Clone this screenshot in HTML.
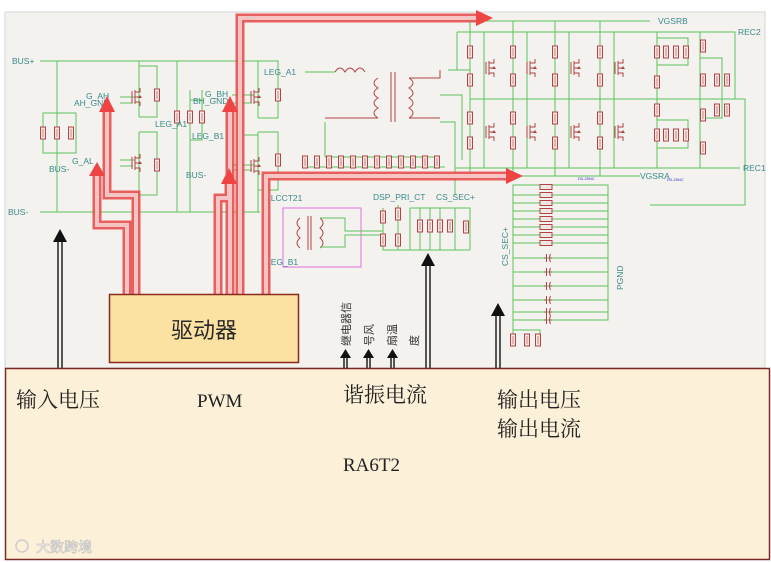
<!DOCTYPE html>
<html><head><meta charset="utf-8"><style>
html,body{margin:0;padding:0;background:#fff;}
svg{display:block;}
.g{stroke:#5cc35c;stroke-width:1;fill:none;}
.lb{font-family:"Liberation Sans",sans-serif;font-size:8.5px;fill:#3a8a8a;}
.cn{font-family:"Liberation Serif","Noto Serif CJK SC",serif;fill:#222;}
</style></head><body>
<svg width="771" height="562" viewBox="0 0 771 562" xmlns="http://www.w3.org/2000/svg">
<defs>
<g id="r"><rect x="-2.5" y="-6" width="5" height="12" fill="#f4e6e2" stroke="#b04444" stroke-width="1"/><line x1="0" y1="-4" x2="0" y2="4" stroke="#b04444" stroke-width="0.6"/></g>
<g id="rh"><rect x="-6" y="-2.5" width="12" height="5" fill="#f4e6e2" stroke="#b04444" stroke-width="1"/></g>
<g id="c"><line x1="-4" y1="0" x2="-1.5" y2="0" stroke="#b04444"/><line x1="-1.5" y1="-4" x2="-1.5" y2="4" stroke="#b04444"/><path d="M2.5,-4 Q0.5,0 2.5,4" stroke="#b04444" fill="none"/><line x1="1.2" y1="0" x2="4" y2="0" stroke="#b04444"/></g>
<g id="m"><line x1="-4" y1="-6" x2="-4" y2="6" stroke="#b04444"/><line x1="-1" y1="-7" x2="-1" y2="7" stroke="#b04444"/><path d="M-1,-5 H4 V-9 M-1,5 H4 V9 M-1,0 H4" stroke="#b04444" fill="none"/><path d="M4,-2 l2,3 h-4z" fill="#b04444"/></g>
</defs>
<rect x="0" y="0" width="771" height="562" fill="#fff"/>
<rect x="5" y="12" width="760" height="356" fill="#f3f2ee" stroke="#d4d4d4"/>

<g class="g">
<path d="M40,61 H260 M40,212 H260 M57,61 V212 M43,113 H76 V153 H43 Z M57,113 V153"/>
<path d="M139,61 V117 M139,132 V195 M139,66 H157 V117 H139 M139,132 H157 V195 H139 M120,97 H135 M120,103 H133 M120,160 H135 M120,166 H133"/>
<path d="M177,61 V212 M190,90 V212 M202,90 V140 H190 M190,100 H202"/>
<path d="M258,61 V118 M258,132 V212 M258,61 H278 V118 H258 M258,132 H278 V190 H258 M232,95 H254 M232,103 H252 M232,165 H254 M232,170 H252 M244,135 H258"/>
<path d="M305,72 H335 M448,70 H470 V21 M325,122 V157 M325,157 H440 M305,167 H445 M330,157 V167 M440,95 H462 V160 M440,122 H455 V195"/>
</g>
<g>
<use href="#r" x="43" y="133"/><use href="#r" x="57" y="133"/><use href="#r" x="71" y="133"/>
<use href="#r" x="157" y="95"/><use href="#r" x="157" y="165"/>
<use href="#r" x="177" y="117"/><use href="#r" x="190" y="117"/><use href="#r" x="202" y="117"/>
<use href="#r" x="278" y="95"/><use href="#r" x="278" y="160"/>
<use href="#m" x="136" y="97"/><use href="#m" x="136" y="163"/><use href="#m" x="255" y="97"/><use href="#m" x="255" y="166"/>
<use href="#r" x="305" y="162"/><use href="#r" x="317" y="162"/><use href="#r" x="329" y="162"/><use href="#r" x="341" y="162"/><use href="#r" x="353" y="162"/><use href="#r" x="365" y="162"/><use href="#r" x="377" y="162"/><use href="#r" x="389" y="162"/><use href="#r" x="401" y="162"/><use href="#r" x="413" y="162"/><use href="#r" x="425" y="162"/><use href="#r" x="437" y="162"/>
</g>
<g stroke="#b04444" fill="none">
<path d="M335,72 q5,-8 10,0 q5,-8 10,0 q5,-8 10,0"/>
<path d="M378,78 q-8,5 0,10 q-8,5 0,10 q-8,5 0,10 q-8,5 0,10"/>
<path d="M409,78 q8,5 0,10 q8,5 0,10 q8,5 0,10 q8,5 0,10"/>
<line x1="391" y1="72" x2="391" y2="122"/><line x1="395" y1="72" x2="395" y2="122"/>
<path d="M378,118 H325 M409,78 H440 V70 M409,118 H440"/>
</g>
<text class="lb" x="264" y="75">LEG_A1</text>
<text class="lb" x="86" y="99">G_AH</text>
<text class="lb" x="74" y="106">AH_GND</text>
<text class="lb" x="155" y="127">LEG_A1</text>
<text class="lb" x="72" y="164">G_AL</text>
<text class="lb" x="49" y="172">BUS-</text>
<text class="lb" x="12" y="64">BUS+</text>
<text class="lb" x="8" y="215">BUS-</text>
<text class="lb" x="205" y="97">G_BH</text>
<text class="lb" x="193" y="104">BH_GND</text>
<text class="lb" x="192" y="139">LEG_B1</text>
<text class="lb" x="186" y="178">BUS-</text>
<text class="lb" x="266" y="201">LLCCT21</text>
<text class="lb" x="266" y="265">LEG_B1</text>
<text class="lb" x="373" y="200">DSP_PRI_CT</text>
<text class="lb" x="436" y="200">CS_SEC+</text>

<rect x="283" y="208" width="78" height="59" fill="none" stroke="#e070e0"/>
<g stroke="#b04444" fill="none"><path d="M300,218 q-6,5 0,10 q-6,5 0,10 q-6,5 0,10"/><path d="M320,218 q6,5 0,10 q6,5 0,10 q6,5 0,10"/><line x1="308" y1="216" x2="308" y2="250"/><line x1="311" y1="216" x2="311" y2="250"/></g>
<g class="g"><path d="M320,218 H345 V231 H383 M320,247 H345 V235 H383 M383,208 V250 H470 M398,205 V250 M410,208 V250 M410,208 H470 V250 M420,208 V250 M430,208 V250 M440,208 V250 M455,208 V250"/></g>
<g><use href="#r" x="383" y="217"/><use href="#r" x="398" y="214"/><use href="#r" x="383" y="240"/><use href="#r" x="398" y="240"/><use href="#r" x="420" y="226"/><use href="#r" x="430" y="226"/><use href="#r" x="440" y="226"/><use href="#r" x="450" y="226"/><use href="#r" x="466" y="227"/></g>

<g class="g">
<path d="M470,21 H650 M457,32 H735 V99 M457,32 V70 M470,99 H745 V205 H650 M455,168 H740 M462,176 H640"/>
<path d="M470,21 V176 M484,32 V168 M513,21 V176 M527,32 V168 M555,21 V176 M569,32 V168 M600,21 V176 M614,32 V168 M657,32 V168 M700,32 V168"/>
<path d="M657,38 H688 V65 H657 M657,120 H688 V148 H657 M700,58 H722 V118 H700"/>
<path d="M513,185 H608 V320 H513 Z M513,195 H608 M513,203 H608 M513,211 H608 M513,219 H608 M513,227 H608 M513,235 H608 M513,243 H608 M513,258 H608 M513,272 H608 M513,286 H608 M513,300 H608 M513,312 H608 M513,320 V345 M513,330 H540 V345"/>
</g>
<g>
<use href="#r" x="470" y="52"/><use href="#r" x="470" y="80"/><use href="#r" x="470" y="118"/><use href="#r" x="470" y="143"/>
<use href="#r" x="513" y="52"/><use href="#r" x="513" y="80"/><use href="#r" x="513" y="118"/><use href="#r" x="513" y="143"/>
<use href="#r" x="555" y="52"/><use href="#r" x="555" y="80"/><use href="#r" x="555" y="118"/><use href="#r" x="555" y="143"/>
<use href="#r" x="600" y="52"/><use href="#r" x="600" y="80"/><use href="#r" x="600" y="118"/><use href="#r" x="600" y="143"/>
<use href="#m" x="490" y="68"/><use href="#m" x="531" y="68"/><use href="#m" x="575" y="68"/><use href="#m" x="619" y="68"/>
<use href="#m" x="490" y="132"/><use href="#m" x="531" y="132"/><use href="#m" x="575" y="132"/><use href="#m" x="619" y="132"/>
<use href="#r" x="657" y="52"/><use href="#r" x="666" y="52"/><use href="#r" x="676" y="52"/><use href="#r" x="686" y="52"/>
<use href="#r" x="657" y="82"/><use href="#r" x="657" y="110"/>
<use href="#r" x="657" y="135"/><use href="#r" x="666" y="135"/><use href="#r" x="676" y="135"/><use href="#r" x="686" y="135"/>
<use href="#r" x="703" y="46"/><use href="#r" x="703" y="80"/><use href="#r" x="703" y="115"/><use href="#r" x="703" y="148"/>
<use href="#r" x="717" y="80"/><use href="#r" x="727" y="80"/><use href="#r" x="717" y="110"/><use href="#r" x="727" y="110"/>
<use href="#rh" x="546" y="187"/><use href="#rh" x="546" y="195"/><use href="#rh" x="546" y="203"/><use href="#rh" x="546" y="211"/><use href="#rh" x="546" y="219"/><use href="#rh" x="546" y="227"/><use href="#rh" x="546" y="235"/><use href="#rh" x="546" y="243"/>
<use href="#c" x="548" y="258"/><use href="#c" x="548" y="272"/><use href="#c" x="548" y="286"/><use href="#c" x="548" y="300"/><use href="#c" x="548" y="312"/><use href="#c" x="548" y="320"/>
<use href="#r" x="513" y="340"/><use href="#r" x="527" y="340"/><use href="#r" x="538" y="340"/>
</g>
<text class="lb" x="658" y="24">VGSRB</text>
<text class="lb" x="738" y="35">REC2</text>
<text class="lb" x="743" y="171">REC1</text>
<text class="lb" x="640" y="179">VGSRA</text>
<text class="lb" x="0" y="0" transform="translate(508,266) rotate(-90)">CS_SEC+</text>
<text class="lb" x="0" y="0" transform="translate(623,290) rotate(-90)">PGND</text>
<text x="578" y="180" font-size="4" fill="#33c" font-family="Liberation Sans">D0-25NC</text>
<text x="667" y="181" font-size="4" fill="#33c" font-family="Liberation Sans">D0-25NC</text>

<g fill="none" stroke-linejoin="miter">
<g stroke="#e85050" stroke-width="9" opacity="0.9">
<path d="M127,294 V225 H97 V172"/><path d="M136,294 V195 H107 V108"/>
<path d="M218,294 V198 H229 V180"/><path d="M230,294 V108"/><path d="M240,294 V18 H478"/><path d="M266,294 V176 H508"/>
</g>
<g stroke="#f7c4c4" stroke-width="4">
<path d="M127,294 V225 H97 V172"/><path d="M136,294 V195 H107 V108"/>
<path d="M218,294 V198 H229 V180"/><path d="M230,294 V108"/><path d="M240,294 V18 H478"/><path d="M266,294 V176 H508"/>
</g>
</g>
<g fill="#ee4444">
<path d="M89,176 L97,162 L105,176Z"/><path d="M99,112 L107,96 L115,112Z"/>
<path d="M221,184 L229,168 L237,184Z"/><path d="M222,112 L230,96 L238,112Z"/>
<path d="M476,10 L493,18 L476,26Z"/><path d="M506,168 L523,176 L506,184Z"/>
</g>

<g stroke="#222" stroke-width="1.5">
<line x1="58" y1="368" x2="58" y2="240"/><line x1="62" y1="368" x2="62" y2="240"/>
<line x1="426" y1="368" x2="426" y2="264"/><line x1="430" y1="368" x2="430" y2="264"/>
<line x1="496" y1="368" x2="496" y2="314"/><line x1="500" y1="368" x2="500" y2="314"/>
<line x1="344" y1="368" x2="344" y2="356"/><line x1="347" y1="368" x2="347" y2="356"/>
<line x1="367" y1="368" x2="367" y2="356"/><line x1="370" y1="368" x2="370" y2="356"/>
<line x1="391" y1="368" x2="391" y2="356"/><line x1="394" y1="368" x2="394" y2="356"/>
</g>
<g fill="#111">
<path d="M53,242 L60,229 L67,242Z"/><path d="M421,266 L428,253 L435,266Z"/><path d="M491,316 L498,303 L505,316Z"/>
<path d="M340,358 L345.5,349 L351,358Z"/><path d="M363,358 L368.5,349 L374,358Z"/><path d="M387,358 L392.5,349 L398,358Z"/>
</g>
<g font-family="'Noto Sans CJK SC',sans-serif" font-size="11" fill="#333">
<text x="0" y="0" transform="translate(350,346) rotate(-90)">继电器信</text>
<text x="0" y="0" transform="translate(373,346) rotate(-90)">号风</text>
<text x="0" y="0" transform="translate(396,346) rotate(-90)">扇温</text>
<text x="0" y="0" transform="translate(418,346) rotate(-90)">度</text>
</g>

<rect x="109.5" y="294.5" width="189" height="68" fill="#fbe1a2" stroke="#8b2a1a" stroke-width="1.5"/>
<text x="204" y="338" text-anchor="middle" font-family="'Noto Sans CJK SC',sans-serif" font-size="22" fill="#2a2a2a">驱动器</text>

<rect x="5.5" y="368.5" width="764" height="191" fill="#fdf0d8" stroke="#7a2a22" stroke-width="1.5"/>
<g class="cn" font-size="21">
<text x="16" y="407">输入电压</text>
<text x="197" y="407" font-size="19">PWM</text>
<text x="343" y="402">谐振电流</text>
<text x="497" y="407">输出电压</text>
<text x="497" y="436">输出电流</text>
<text x="343" y="471" font-size="19">RA6T2</text>
</g>
<text x="36" y="552" font-family="'Noto Sans CJK SC',sans-serif" font-size="14" fill="#fff" stroke="#bbb" stroke-width="0.6">大数跨境</text>
<circle cx="22" cy="546" r="6" fill="none" stroke="#ccc" stroke-width="1.5"/>
</svg>
</body></html>
